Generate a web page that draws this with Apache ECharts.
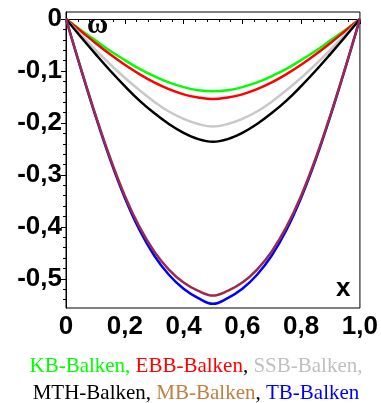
<!DOCTYPE html>
<html>
<head>
<meta charset="utf-8">
<script src="https://cdn.jsdelivr.net/npm/echarts@6/dist/echarts.min.js"></script>
<style>html,body{margin:0;padding:0;background:#fff}#c{width:381px;height:403px}</style>
</head>
<body>
<div id="c"></div>
<script>
var xs = [0,0.05,0.1,0.15,0.2,0.25,0.3,0.35,0.4,0.45,0.5,0.55,0.6,0.65,0.7,0.75,0.8,0.85,0.9,0.95,1];
var kb  = [0,-0.021,-0.041,-0.061,-0.079,-0.096,-0.110,-0.122,-0.131,-0.137,-0.139,-0.137,-0.131,-0.122,-0.110,-0.096,-0.079,-0.061,-0.041,-0.021,0];
var ebb = [0,-0.023,-0.046,-0.068,-0.088,-0.106,-0.122,-0.135,-0.145,-0.151,-0.154,-0.151,-0.145,-0.135,-0.122,-0.106,-0.088,-0.068,-0.046,-0.023,0];
var ssb = [0,-0.030,-0.059,-0.087,-0.113,-0.137,-0.159,-0.178,-0.192,-0.202,-0.207,-0.202,-0.192,-0.178,-0.159,-0.137,-0.113,-0.087,-0.059,-0.030,0];
var mth = [0,-0.034,-0.067,-0.099,-0.129,-0.157,-0.181,-0.202,-0.219,-0.231,-0.236,-0.231,-0.219,-0.202,-0.181,-0.157,-0.129,-0.099,-0.067,-0.034,0];
var tb  = [0,-0.095,-0.186,-0.270,-0.344,-0.406,-0.455,-0.492,-0.519,-0.537,-0.548,-0.537,-0.519,-0.492,-0.455,-0.406,-0.344,-0.270,-0.186,-0.095,0];
var mb  = [0,-0.094,-0.184,-0.267,-0.340,-0.400,-0.447,-0.482,-0.507,-0.523,-0.532,-0.523,-0.507,-0.482,-0.447,-0.400,-0.340,-0.267,-0.184,-0.094,0];
var yMajor = [0,-0.1,-0.2,-0.3,-0.4,-0.5];
var yMinor = [-0.02,-0.04,-0.06,-0.08,-0.12,-0.14,-0.16,-0.18,-0.22,-0.24,-0.26,-0.28,-0.32,-0.34,-0.36,-0.38,-0.42,-0.44,-0.46,-0.48,-0.52,-0.54];

function pairs(ys){ return xs.map(function(x,i){ return [x, ys[i]]; }); }
function fmt(v){ if (Math.abs(v) < 1e-9) return '0'; return v.toFixed(1).replace('.', ','); }

var chart = echarts.init(document.getElementById('c'), null, {renderer:'canvas'});
var labelFont = {color:'#000', fontWeight:'bold', fontSize:26, fontFamily:'Liberation Sans, Arial, sans-serif'};
function line(name, ys, color){
  return {name:name, type:'line', data:pairs(ys), smooth:0.4, symbol:'none',
          lineStyle:{color:color, width:2.5}, yAxisIndex:0, animation:false};
}
var LF = '21px "Liberation Serif", serif';
chart.setOption({
  animation:false,
  grid:{left:66, right:19, top:12, bottom:95, show:true, borderColor:'#000', borderWidth:1, containLabel:false},
  xAxis:{type:'value', min:0, max:1, interval:0.2,
    axisLine:{show:true, lineStyle:{color:'#000', width:1}},
    axisTick:{show:true, length:5, lineStyle:{color:'#000'}},
    minorTick:{show:true, splitNumber:5, length:3, lineStyle:{color:'#000'}},
    splitLine:{show:false},
    axisLabel:Object.assign({margin:6, formatter:fmt, showMinLabel:true, showMaxLabel:true}, labelFont)
  },
  yAxis:[
    {type:'value', min:-0.556, max:0.0135, position:'left',
     axisLine:{show:true, lineStyle:{color:'#000', width:1}},
     axisTick:{show:true, length:5, customValues:yMajor, lineStyle:{color:'#000'}},
     splitLine:{show:false},
     axisLabel:Object.assign({margin:4, customValues:yMajor, formatter:fmt}, labelFont)
    },
    {type:'value', min:-0.556, max:0.0135, position:'left', offset:0,
     axisLine:{show:false},
     axisTick:{show:true, length:3, customValues:yMinor, lineStyle:{color:'#000'}},
     splitLine:{show:false},
     axisLabel:{show:false}
    }
  ],
  series:[
    line('KB-Balken', kb, '#00ff00'),
    line('EBB-Balken', ebb, '#ff0000'),
    line('SSB-Balken', ssb, '#c8c8c8'),
    line('MTH-Balken', mth, '#000000'),
    line('TB-Balken', tb, '#0000ff'),
    line('MB-Balken', mb, '#9e2a4a')
  ],
  graphic:[
    {type:'text', left:87, top:11, style:{text:'ω', font:'bold 29px "Liberation Serif", serif', fill:'#000'}},
    {type:'text', left:336, top:276, style:{text:'x', font:'bold 26px "Liberation Sans", Arial, sans-serif', fill:'#000'}},
    {type:'text', x:196, y:353, style:{
      text:'{g|KB-Balken,} {r|EBB-Balken}{k|,} {s|SSB-Balken,}\n{k|MTH-Balken,} {b|MB-Balken}{k|,} {u|TB-Balken}',
      font:LF, align:'center', verticalAlign:'top', lineHeight:27,
      rich:{
        g:{fill:'#00ff00', font:LF, lineHeight:27},
        r:{fill:'#ff0000', font:LF, lineHeight:27},
        k:{fill:'#000000', font:LF, lineHeight:27},
        s:{fill:'#c0c0c0', font:LF, lineHeight:27},
        b:{fill:'#c08040', font:LF, lineHeight:27},
        u:{fill:'#0000ff', font:LF, lineHeight:27}
      }
    }}
  ]
});
</script>
</body>
</html>
